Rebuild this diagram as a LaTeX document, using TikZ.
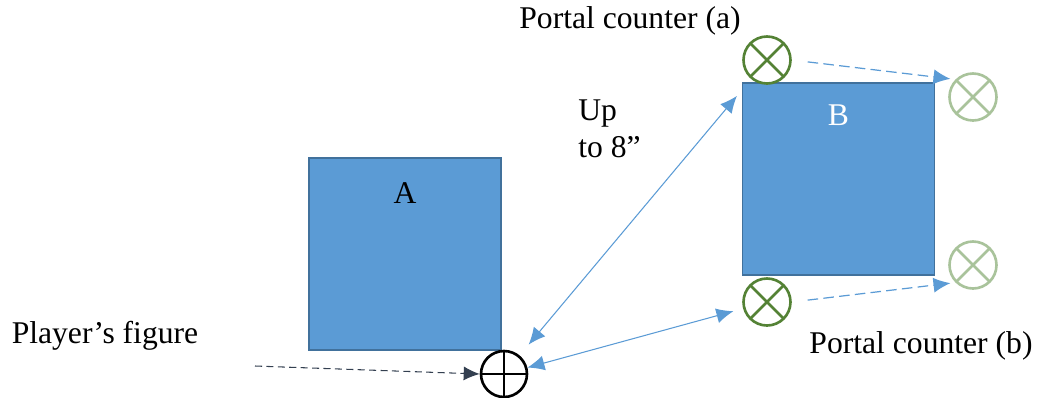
\documentclass[tikz,border=0pt]{standalone}
\usepackage{fontspec}
\setmainfont{Liberation Serif}
\usetikzlibrary{arrows.meta,positioning,calc}
\definecolor{tileblue}{HTML}{5B9BD5}
\definecolor{tileedge}{HTML}{41719C}
\definecolor{portalgreen}{HTML}{548235}
\definecolor{ghostgreen}{HTML}{A9C39B}
\definecolor{slatedark}{HTML}{333F50}
\tikzset{
  tile/.style={draw=tileedge,line width=1.1pt,fill=tileblue,minimum width=3.84cm,
    minimum height=3.84cm,inner sep=0pt},
  portal/.style={circle,draw=portalgreen,line width=1.5pt,minimum size=0.94cm,inner sep=0pt,
    path picture={\draw[portalgreen,line width=1.5pt]
      (path picture bounding box.north west) -- (path picture bounding box.south east)
      (path picture bounding box.north east) -- (path picture bounding box.south west);}},
  ghost/.style={portal,draw=ghostgreen,
    path picture={\draw[ghostgreen,line width=1.5pt]
      (path picture bounding box.north west) -- (path picture bounding box.south east)
      (path picture bounding box.north east) -- (path picture bounding box.south west);}},
  playerfig/.style={circle,draw=black,line width=1.5pt,minimum size=0.92cm,inner sep=0pt,
    path picture={\draw[black,line width=1.5pt]
      (path picture bounding box.north) -- (path picture bounding box.south)
      (path picture bounding box.west) -- (path picture bounding box.east);}},
  caption/.style={font=\fontsize{18}{21.5}\selectfont,inner sep=0pt},
  reach/.style={{Latex[length=3.4mm,width=3mm]}-{Latex[length=3.4mm,width=3mm]},draw=tileblue,line width=0.6pt},
  hop/.style={-{Latex[length=3.4mm,width=3mm]},dash pattern=on 6pt off 3pt,draw=tileblue,line width=0.7pt},
  walk/.style={-{Latex[length=3.2mm,width=2.8mm]},dash pattern=on 4pt off 2.5pt,draw=slatedark,line width=0.6pt}
}
\begin{document}
\begin{tikzpicture}[x=0.02cm,y=-0.02cm,node distance=0.3cm and 0.3cm]
\useasboundingbox (0,0) rectangle (1039,397);
\node[tile] (tileA) at (405,254) {};
\node[tile] (tileB) at (838.5,179) {};
\node[caption,below=0.5cm of tileA.north] (nameA) {A};
\node[caption,text=white,below=0.45cm of tileB.north] (nameB) {B};
\node[playerfig] (player) at (504,374) {};
\node[portal] (pa) at (767,60) {};
\node[portal] (pb) at (767,302) {};
\node[ghost] (fa) at (973,97) {};
\node[ghost] (fb) at (973,265) {};
\node[caption] (lblA) at (630,21) {Portal counter (a)};
\node[caption] (lblB) at (921,346) {Portal counter (b)};
\node[caption] (lblP) at (105,336) {Player’s figure};
\node[caption,align=left,anchor=north west] (range) at (578,99) {Up\\to 8”};
\coordinate (start) at (255,366);
% moves
\draw[reach,shorten <=0.28cm,shorten >=0.44cm] (player) -- (pa);
\draw[reach,shorten >=0.2cm] (player) -- (pb);
\draw[walk] (start) -- (player.west);
\draw[hop,shorten <=0.32cm,shorten >=0.1cm] (pa.east) -- (fa.135);
\draw[hop,shorten <=0.32cm,shorten >=0.1cm] (pb.east) -- (fb.225);
\end{tikzpicture}
\end{document}
